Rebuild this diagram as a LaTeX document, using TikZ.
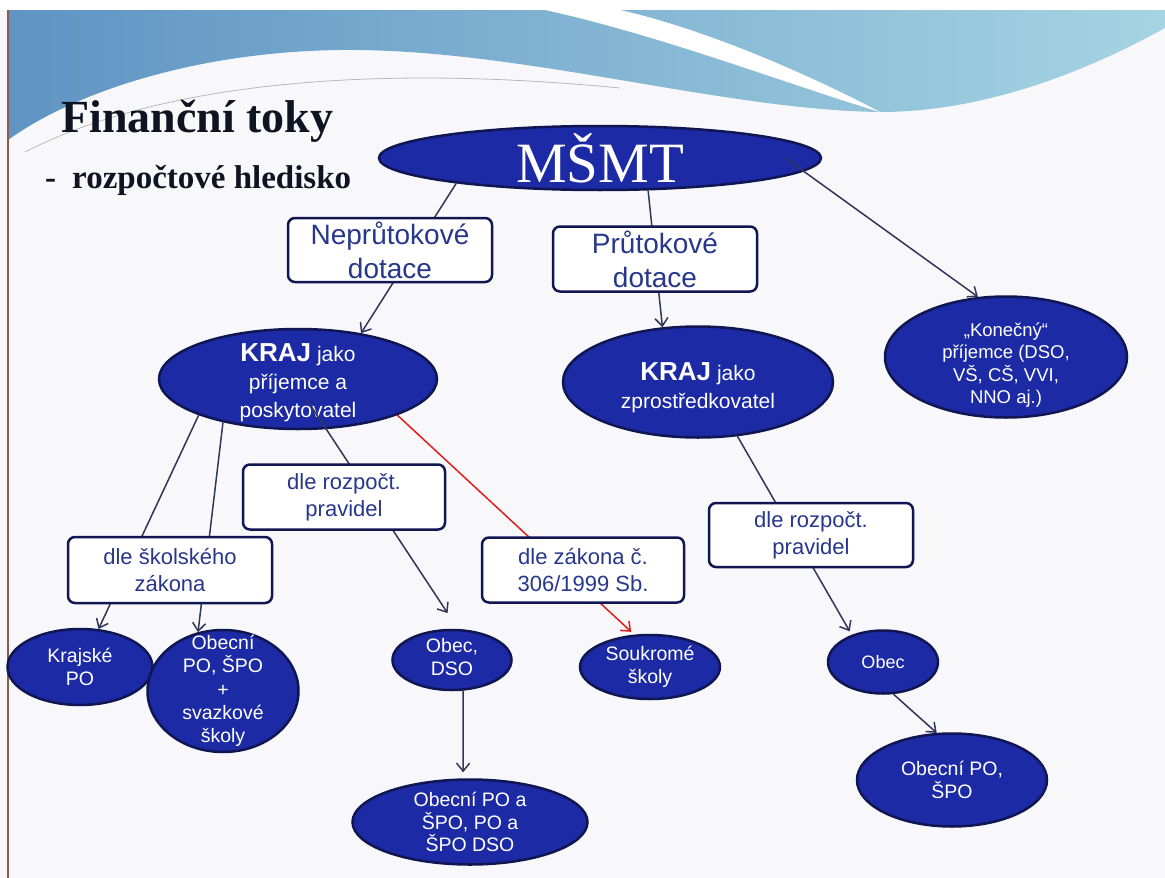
\documentclass[tikz,border=0pt]{standalone}
\usepackage{fontspec}
\setmainfont{Liberation Serif}
\setsansfont{Liberation Sans}
\usepackage{tikz}
\usetikzlibrary{arrows.meta,shapes.geometric,positioning}

\definecolor{kraj}{RGB}{28,42,165}
\definecolor{navy}{RGB}{16,22,82}
\definecolor{boxtext}{RGB}{40,55,140}
\definecolor{linegray}{RGB}{50,52,90}
\definecolor{redline}{RGB}{225,30,30}
\definecolor{paper}{RGB}{248,248,250}
\definecolor{wave1}{RGB}{95,148,195}
\definecolor{wave2}{RGB}{165,212,226}
\definecolor{frame}{RGB}{140,92,82}
\definecolor{titleink}{RGB}{15,20,35}

\newcommand{\fsize}[2]{\fontsize{#1}{#2}\selectfont}

\begin{document}
\begin{tikzpicture}[x=1pt,y=-1pt,
  >={Straight Barb[length=8pt,width=13pt]},
  blob/.style={ellipse, draw=navy, line width=2.5pt, fill=kraj, inner sep=0pt},
  lab/.style={text=white, font=\sffamily\fsize{19.5}{22.5}, align=center, inner sep=0pt},
  tag/.style={rectangle, rounded corners=7pt, draw=navy, line width=2.5pt, fill=white,
    text=boxtext, font=\sffamily\fsize{22}{27}, align=center, inner sep=0pt},
  flow/.style={->, draw=linegray, line width=1.5pt}]

\useasboundingbox (0,0) rectangle (1165,878);
% slide background
\fill[paper] (0,0) rectangle (1165,878);
\fill[white] (0,0) rectangle (1165,10);
\shade[left color=wave1, right color=wave2] (8,10) -- (1165,10) -- (1165,28)
  .. controls (1080,75) and (980,112) .. (880,112)
  .. controls (720,110) and (520,48) .. (340,50)
  .. controls (190,52) and (70,95) .. (8,140) -- cycle;
\fill[white] (545,10) .. controls (660,35) and (790,85) .. (880,112)
  .. controls (800,70) and (700,28) .. (620,10) -- cycle;
\draw[gray!55, line width=0.8pt] (25,152) .. controls (150,88) and (350,62) .. (620,88);
\draw[frame, line width=2.5pt] (8,10) -- (8,878);

\node[anchor=base west, inner sep=0pt, font=\bfseries\fsize{46}{52}, text=titleink] (title) at (61,132) {Finanční toky};
\node[anchor=base west, inner sep=0pt, font=\bfseries\fsize{33}{40}, text=titleink] (subtitle) at (45,188) {-\hspace{16pt}rozpočtové hledisko};

% ellipses
\node[blob, minimum width=442pt, minimum height=64pt,
  label={[lab, font=\rmfamily\fsize{57}{60}]center:MŠMT}] (msmt) at (600,158) {};
\node[blob, minimum width=278pt, minimum height=100pt,
  label={[lab, font=\sffamily\fsize{21}{28}, yshift=-4pt]center:{\textbf{\fsize{26}{28}KRAJ} jako\\příjemce a\\poskytovatel}}] (krajA) at (298,379) {};
\node[blob, minimum width=270pt, minimum height=111pt,
  label={[lab, font=\sffamily\fsize{21}{28}, yshift=-6pt]center:{\textbf{\fsize{26}{28}KRAJ} jako\\zprostředkovatel}}] (krajB) at (698,382) {};
\node[blob, minimum width=242pt, minimum height=121pt,
  label={[lab, font=\sffamily\fsize{18.5}{22.3}, yshift=-8pt]center:{„Konečný“\\příjemce (DSO,\\VŠ, CŠ, VVI,\\NNO aj.)}}] (konecny) at (1006,357) {};
\node[blob, minimum width=145pt, minimum height=76pt,
  label={[lab]center:{Krajské\\PO}}] (krajpo) at (80,667) {};
\node[blob, minimum width=151pt, minimum height=122pt,
  label={[lab, font=\sffamily\fsize{19.5}{23.3}]center:{Obecní\\PO, ŠPO\\+\\svazkové\\školy}}] (obecpo) at (223,691) {};
\node[blob, minimum width=119pt, minimum height=60pt,
  label={[lab, yshift=3pt]center:{Obec,\\DSO}}] (obecdso) at (452,660) {};
\node[blob, minimum width=235pt, minimum height=85pt,
  label={[lab]center:{Obecní PO a\\ŠPO, PO a\\ŠPO DSO}}] (obecpoA) at (470,822) {};
\node[blob, minimum width=140pt, minimum height=64pt,
  label={[lab]center:{Soukromé\\školy}}] (soukr) at (650,667) {};
\node[blob, minimum width=110pt, minimum height=63pt,
  label={[lab, font=\sffamily\fsize{18}{22}]center:Obec}] (obecB) at (883,662) {};
\node[blob, minimum width=190pt, minimum height=93pt,
  label={[lab]center:{Obecní PO,\\ŠPO}}] (obecpoB) at (952,780) {};

% connectors
\draw[flow] (msmt.190) -- (krajA.36);
\draw[flow] (msmt.326) -- (krajB.123);
\draw[flow] ([xshift=-37pt]msmt.east) -- (konecny.115);
\draw[flow] (krajA.200) -- (krajpo.64);
\draw[flow] (krajA.210) -- (obecpo.113);
\draw[flow, shorten >=19pt] ([shift={(9,21)}]krajA.center) -- (obecdso.79);
\draw[flow, draw=redline, shorten >=4pt] (krajA.340) -- (soukr.116);
\draw[flow, shorten >=4pt] (krajB.306) -- (obecB.139);
\draw[flow] (obecB.288) -- (obecpoB.108);
\draw[flow, shorten >=6pt] (obecdso.290) -- (obecpoA.99);

% boxes on the lines
\node[tag, minimum width=204pt, minimum height=64pt, font=\sffamily\fsize{28}{34}] (neprut) at (390,250) {Neprůtokové\\dotace};
\node[tag, minimum width=204pt, minimum height=65pt, font=\sffamily\fsize{28}{34}] (prut) at (655,259) {Průtokové\\dotace};
\node[tag, minimum width=202pt, minimum height=65pt] (pravA) at (344,497) {dle rozpočt.\\pravidel};
\node[tag, minimum width=204pt, minimum height=66pt] (skol) at (170,570) {dle školského\\zákona};
\node[tag, minimum width=202pt, minimum height=65pt] (zakon) at (583,570) {dle zákona č.\\306/1999 Sb.};
\node[tag, minimum width=204pt, minimum height=64pt] (pravB) at (811,535) {dle rozpočt.\\pravidel};
\end{tikzpicture}
\end{document}
